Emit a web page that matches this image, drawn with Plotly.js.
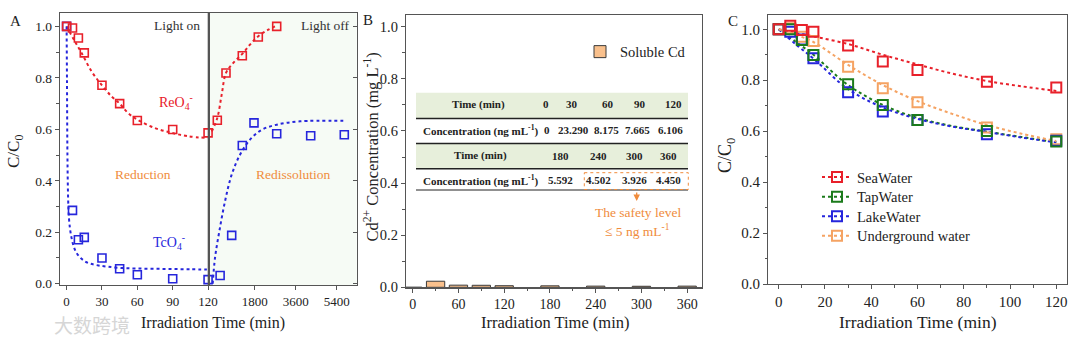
<!DOCTYPE html>
<html>
<head>
<meta charset="utf-8">
<script src="https://cdn.plot.ly/plotly-3.0.1.min.js"></script>
<style>html,body{margin:0;padding:0;background:#fff;}#chart{width:1080px;height:341px;}</style>
</head>
<body>
<div id="chart"></div>
<script>
// ---------- Panel A data (light on: 0-120 min, light off: after 120 min) ----------
const aOnTime   = [0, 5, 10, 15, 30, 45, 60, 90, 120];
const reOnC     = [1.0, 0.994, 0.955, 0.897, 0.771, 0.70, 0.634, 0.599, 0.586];
const tcOnC     = [1.0, 0.285, 0.171, 0.18, 0.10, 0.058, 0.035, 0.019, 0.016];
const reOffTime = [158, 540, 1256, 1958, 2766];
const reOffC    = [0.635, 0.819, 0.886, 0.959, 1.0];
const tcOffTime = [282, 790, 1256, 1769, 2766, 4258, 5733];
const tcOffC    = [0.032, 0.188, 0.537, 0.625, 0.583, 0.575, 0.579];
// fitted curves
const reFitOnT  = [0, 7, 12.7, 21.2, 30, 38.1, 45, 52.2, 60, 74.8, 89.5, 103, 120];
const reFitOnC  = [1.0, 0.942, 0.897, 0.825, 0.771, 0.728, 0.70, 0.663, 0.638, 0.605, 0.586, 0.573, 0.566];
const tcFitOnT  = [0, 0.3, 0.7, 1.3, 2, 3, 4.2, 6, 8.5, 12, 15.5, 20, 27, 35, 47, 60, 75, 90, 105, 119];
const tcFitOnC  = [1.0, 0.8, 0.5, 0.33, 0.255, 0.21, 0.178, 0.145, 0.119, 0.1, 0.087, 0.078, 0.071, 0.066, 0.061, 0.059, 0.058, 0.057, 0.056, 0.055];
const reFitOffT = [-88, 158, 351, 540, 861, 1256, 1594, 1958, 2397, 2766];
const reFitOffC = [0.592, 0.644, 0.735, 0.819, 0.858, 0.893, 0.929, 0.962, 0.987, 1.003];
const tcFitOffT = [-44, 57, 246, 496, 790, 1155, 1594, 2107, 2766, 3789, 5689];
const tcFitOffC = [0.0, 0.1, 0.203, 0.32, 0.424, 0.501, 0.56, 0.598, 0.618, 0.631, 0.633];

// ---------- Panel B data ----------
const bTime   = [0, 30, 60, 90, 120, 180, 240, 300, 360];
const bCd     = [0, 0.0233, 0.0082, 0.0077, 0.0061, 0.0056, 0.0045, 0.0039, 0.0045]; // mg/L
const tabTime1 = ['0', '30', '60', '90', '120'];
const tabConc1 = ['0', '23.290', '8.175', '7.665', '6.106'];
const tabTime2 = ['180', '240', '300', '360'];
const tabConc2 = ['5.592', '4.502', '3.926', '4.450'];

// ---------- Panel C data ----------
const cTime  = [0, 5, 10, 15, 30, 45, 60, 90, 120];
const seaC   = [1.0, 1.014, 0.997, 0.99, 0.936, 0.873, 0.84, 0.794, 0.771];
const tapC   = [1.0, 1.0, 0.958, 0.899, 0.784, 0.703, 0.644, 0.601, 0.559];
const lakeC  = [1.0, 0.99, 0.96, 0.886, 0.753, 0.677, 0.644, 0.588, 0.562];
const underC = [1.0, 1.004, 0.971, 0.954, 0.853, 0.768, 0.713, 0.614, 0.568];
const cFitT     = [0, 7.5, 15, 30, 45, 60, 75, 90, 105, 120];
const seaFit    = [1.0, 0.986, 0.972, 0.942, 0.90, 0.862, 0.826, 0.797, 0.776, 0.758];
const tapFit    = [1.0, 0.95, 0.90, 0.781, 0.703, 0.652, 0.62, 0.598, 0.577, 0.557];
const lakeFit   = [1.0, 0.94, 0.885, 0.765, 0.693, 0.648, 0.618, 0.597, 0.575, 0.556];
const underFit  = [1.0, 0.978, 0.95, 0.86, 0.781, 0.718, 0.668, 0.624, 0.59, 0.561];
const cNames = ['SeaWater', 'TapWater', 'LakeWater', 'Underground water'];

// ---------- styling ----------
const FONT = 'Liberation Serif, Times New Roman, serif';
const RED = '#E8202A', BLUE = '#2626DC', GREEN = '#1B7B1B', ORANGE = '#F5A363', TXTOR = '#F08C3C';
const W = 1080, H = 341;
const px = v => v / W, py = v => 1 - v / H;

function ax(extra) {
  return Object.assign({
    showline: true, linecolor: '#555', linewidth: 1.2, mirror: true,
    ticks: 'outside', ticklen: 4, tickcolor: '#555', tickwidth: 1,
    tickfont: {family: FONT, size: 13, color: '#222'},
    showgrid: false, zeroline: false
  }, extra);
}

const traces = [];
function line(x, y, color, xa, ya, w) {
  traces.push({type: 'scatter', mode: 'lines', x: x, y: y, xaxis: xa, yaxis: ya,
    line: {color: color, width: w || 2, dash: 'dot', shape: 'spline'}, showlegend: false, hoverinfo: 'skip'});
}
function pts(x, y, color, xa, ya, size, lw) {
  traces.push({type: 'scatter', mode: 'markers', x: x, y: y, xaxis: xa, yaxis: ya, cliponaxis: false,
    marker: {symbol: 'square-open', size: size, color: color, line: {color: color, width: lw}}, showlegend: false});
}

// Panel A
line(reFitOnT, reFitOnC, RED, 'x', 'y');
line(tcFitOnT, tcFitOnC, BLUE, 'x', 'y');
line(reFitOffT, reFitOffC, RED, 'x2', 'y2');
line(tcFitOffT, tcFitOffC, BLUE, 'x2', 'y2');
pts(aOnTime, tcOnC, BLUE, 'x', 'y', 8, 1.6);
pts(aOnTime, reOnC, RED, 'x', 'y', 8, 1.6);
pts(reOffTime, reOffC, RED, 'x2', 'y2', 8, 1.6);
pts(tcOffTime, tcOffC, BLUE, 'x2', 'y2', 8, 1.6);

// Panel B
traces.push({type: 'bar', x: bTime, y: bCd, xaxis: 'x3', yaxis: 'y3', width: 24, name: 'Soluble Cd',
  legend: 'legend2', showlegend: true,
  marker: {color: '#F9C08C', line: {color: '#3a3a3a', width: 1}}});

// Panel C
const cSeries = [seaC, tapC, lakeC, underC];
const cFits = [seaFit, tapFit, lakeFit, underFit];
const cCols = [RED, GREEN, BLUE, ORANGE];
const cLegends = ['legend', 'legend3', 'legend4', 'legend5'];
for (let i = 0; i < 4; i++) line(cFitT, cFits[i], cCols[i], 'x4', 'y4');
for (let i = 3; i >= 0; i--) pts(cTime, cSeries[i], cCols[i], 'x4', 'y4', 10, 2);
for (let i = 0; i < 4; i++) {
  traces.push({type: 'scatter', mode: 'lines+markers', x: [null], y: [null], xaxis: 'x4', yaxis: 'y4',
    name: cNames[i], legend: cLegends[i], showlegend: true,
    line: {color: cCols[i], width: 2, dash: 'dot'},
    marker: {symbol: 'square-open', size: 10, color: cCols[i], line: {color: cCols[i], width: 2}}});
}

// ---------- annotations ----------
const ann = [];
function txt(x, y, text, size, color, extra) {
  ann.push(Object.assign({xref: 'paper', yref: 'paper', x: px(x), y: py(y), text: text, showarrow: false,
    font: {family: FONT, size: size, color: color || '#222'}, xanchor: 'center', yanchor: 'middle'}, extra || {}));
}
txt(15, 21, 'A', 15); txt(368, 20, 'B', 15); txt(733, 21, 'C', 15);
txt(213, 322.5, 'Irradiation Time (min)', 16);
txt(554.7, 322, 'Irradiation Time (min)', 16.5);
txt(918, 322, 'Irradiation Time (min)', 17.5);
txt(15, 152, 'C/C<sub>0</sub>', 17, '#222', {textangle: -90});
txt(371.5, 147, 'Cd<sup>2+</sup> Concentration (mg L<sup>-1</sup>)', 16.5, '#222', {textangle: -90});
txt(726, 156, 'C/C<sub>0</sub>', 18, '#222', {textangle: -90});
txt(176.7, 25.7, 'Light on', 13.5, '#333');
txt(325, 25.7, 'Light off', 13.5, '#333');
txt(176, 102, 'ReO<sub>4</sub><sup>-</sup>', 14, RED);
txt(169, 242, 'TcO<sub>4</sub><sup>-</sup>', 14, BLUE);
txt(143.3, 174.3, 'Reduction', 13.5, TXTOR);
txt(293.3, 174.3, 'Redissolution', 13.5, TXTOR);
// table text
const TB = 11;
txt(478.3, 104.3, '<b>Time (min)</b>', TB);
txt(480.7, 130, '<b>Concentration (ng mL<sup>-1</sup>)</b>', TB);
txt(480, 155.5, '<b>Time (min)</b>', TB);
txt(480.7, 180, '<b>Concentration (ng mL<sup>-1</sup>)</b>', TB);
const col1 = [545.7, 572.3, 608.3, 640, 673];
const col1b = [546.7, 573.3, 606.7, 637.3, 670.7];
const col2 = [560, 598.3, 634, 668.3];
tabTime1.forEach((t, i) => txt(col1[i], 104.3, '<b>' + t + '</b>', TB));
tabConc1.forEach((t, i) => txt(col1b[i], 130, '<b>' + t + '</b>', TB));
tabTime2.forEach((t, i) => txt(col2[i], 155.5, '<b>' + t + '</b>', TB));
tabConc2.forEach((t, i) => txt(col2[i], 180, '<b>' + t + '</b>', TB));
txt(638, 212, 'The safety level', 13.5, TXTOR);
txt(637, 231, '≤ 5 ng mL<sup>-1</sup>', 13.5, TXTOR);
ann.push({xref: 'paper', yref: 'paper', x: px(636.7), y: py(201), ax: 0, ay: -10, text: '',
  showarrow: true, arrowhead: 2, arrowsize: 1, arrowwidth: 1.3, arrowcolor: TXTOR, standoff: 0});
// watermark
txt(92, 324, '大数跨境', 19, '#d6d6d6', {font: {family: 'Noto Sans CJK SC', size: 19, color: '#d6d6d6'}});

// ---------- shapes ----------
const shapes = [
  {type: 'rect', xref: 'x2 domain', yref: 'y domain', x0: 0, x1: 1, y0: 0, y1: 1,
    fillcolor: '#F6FBF5', line: {width: 0}, layer: 'below'},
  {type: 'line', xref: 'x2 domain', yref: 'y domain', x0: 0, x1: 0, y0: 0, y1: 1,
    line: {color: '#555', width: 1.2}},
  // table rows
  {type: 'rect', xref: 'paper', yref: 'paper', x0: px(416), x1: px(688), y0: py(92.7), y1: py(118.5),
    fillcolor: '#E7EFDB', line: {width: 0}},
  {type: 'rect', xref: 'paper', yref: 'paper', x0: px(416), x1: px(688), y0: py(144), y1: py(168.5),
    fillcolor: '#E7EFDB', line: {width: 0}},
  {type: 'line', xref: 'paper', yref: 'paper', x0: px(416), x1: px(688), y0: py(118.5), y1: py(118.5), line: {color: '#222', width: 1.6}},
  {type: 'line', xref: 'paper', yref: 'paper', x0: px(416), x1: px(688), y0: py(143.5), y1: py(143.5), line: {color: '#222', width: 1.6}},
  {type: 'line', xref: 'paper', yref: 'paper', x0: px(416), x1: px(688), y0: py(168.8), y1: py(168.8), line: {color: '#222', width: 1.6}},
  {type: 'line', xref: 'paper', yref: 'paper', x0: px(416), x1: px(688), y0: py(190), y1: py(190), line: {color: '#222', width: 1}},
  {type: 'rect', xref: 'paper', yref: 'paper', x0: px(584.3), x1: px(688.3), y0: py(172.7), y1: py(189.5),
    line: {color: TXTOR, width: 1, dash: 'dot'}}
];

function leg(x, yc) {
  return {x: px(x), y: py(yc), xanchor: 'left', yanchor: 'middle', bgcolor: 'rgba(0,0,0,0)',
    font: {family: FONT, size: 14.5, color: '#222'}, tracegroupgap: 0};
}

const layout = {
  width: W, height: H, margin: {l: 0, r: 0, t: 0, b: 0},
  paper_bgcolor: '#fff', plot_bgcolor: '#fff', bargap: 0,
  font: {family: FONT, color: '#222'},
  xaxis: ax({domain: [px(60), px(208.3)], range: [-5.6, 120.2], anchor: 'y', tickvals: [0, 30, 60, 90, 120]}),
  xaxis2: ax({domain: [px(208.3), px(356.7)], range: [-237, 6278], anchor: 'y2', tickvals: [1800, 3600, 5400]}),
  yaxis: ax({domain: [py(285), py(13)], range: [-0.005, 1.052], anchor: 'x', tickvals: [0, 0.2, 0.4, 0.6, 0.8, 1.0],
    tickformat: '.1f', tickfont: {family: FONT, size: 13.5, color: '#222'},
    minor: {ticks: 'outside', ticklen: 2.5, dtick: 0.1, tickcolor: '#555'}}),
  yaxis2: ax({domain: [py(285), py(13)], matches: 'y', anchor: 'x2', side: 'right', showticklabels: false,
    ticks: 'inside', mirror: false}),
  xaxis3: ax({domain: [px(406), px(701.5)], range: [-8.8, 378.8], anchor: 'y3', tickvals: [0, 60, 120, 180, 240, 300, 360],
    tickfont: {family: FONT, size: 14, color: '#222'},
    minor: {ticks: 'outside', ticklen: 2.5, dtick: 30, tickcolor: '#555'}}),
  yaxis3: ax({domain: [py(287.3), py(15)], range: [0, 1.045], anchor: 'x3', tickvals: [0, 0.2, 0.4, 0.6, 0.8, 1.0],
    tickformat: '.1f', tickfont: {family: FONT, size: 14.5, color: '#222'},
    minor: {ticks: 'outside', ticklen: 2.5, dtick: 0.1, tickcolor: '#555'}}),
  xaxis4: ax({domain: [px(768.3), px(1066.7)], range: [-4.5, 124.5], anchor: 'y4', tickvals: [0, 20, 40, 60, 80, 100, 120],
    tickfont: {family: FONT, size: 15, color: '#222'},
    minor: {ticks: 'outside', ticklen: 2.5, dtick: 10, tickcolor: '#555'}}),
  yaxis4: ax({domain: [py(284), py(15)], range: [0, 1.056], anchor: 'x4', tickvals: [0, 0.2, 0.4, 0.6, 0.8, 1.0],
    tickformat: '.1f', tickfont: {family: FONT, size: 15, color: '#222'},
    minor: {ticks: 'outside', ticklen: 2.5, dtick: 0.1, tickcolor: '#555'}}),
  legend: leg(817, 177),
  legend3: leg(817, 196.7),
  legend4: leg(817, 216.2),
  legend5: leg(817, 235.7),
  legend2: {x: px(580), y: py(51.7), xanchor: 'left', yanchor: 'middle', bgcolor: 'rgba(0,0,0,0)',
    font: {family: FONT, size: 14.5, color: '#222'}},
  annotations: ann,
  shapes: shapes,
  showlegend: true
};

Plotly.newPlot('chart', traces, layout, {displayModeBar: false, staticPlot: true});
</script>
</body>
</html>
